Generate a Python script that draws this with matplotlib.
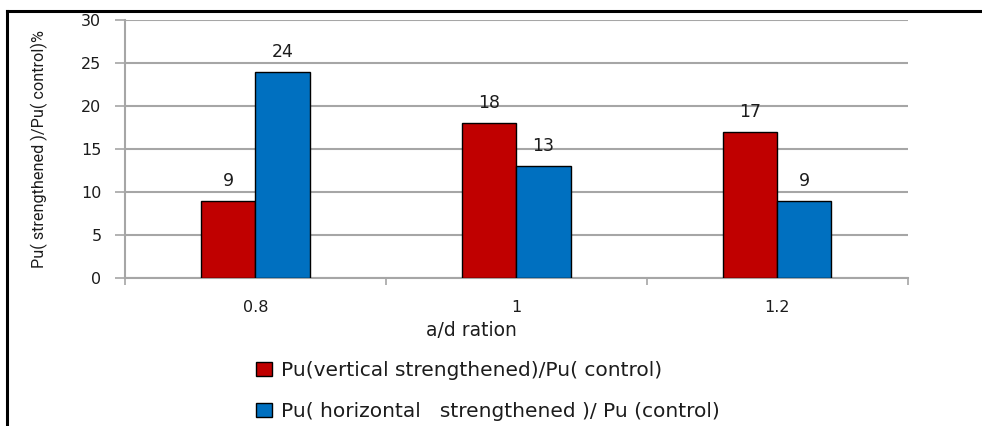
import matplotlib
matplotlib.use("Agg")
import matplotlib.pyplot as plt
from matplotlib.lines import Line2D
import numpy as np

categories = ["0.8", "1", "1.2"]
vertical = [9, 18, 17]
horizontal = [24, 13, 9]
series_labels = ["Pu(vertical strengthened)/Pu( control)",
                 "Pu( horizontal   strengthened )/ Pu (control)"]
yticks = [0, 5, 10, 15, 20, 25, 30]

red = "#C00000"
blue = "#0070C0"
grid_grey = "#A6A6A6"
txt = "#1c1c1c"
sans = ["DejaVu Sans"]

fig = plt.figure(figsize=(9.82, 4.26), dpi=100)
ax = fig.add_axes([0.1273, 0.3474, 0.797, 0.6056])

x = np.arange(len(categories)) + 0.5
w = 0.208
b1 = ax.bar(x - w / 2, vertical, w, color=red, edgecolor="black", linewidth=1.0,
            label=series_labels[0], zorder=3)
b2 = ax.bar(x + w / 2, horizontal, w, color=blue, edgecolor="black", linewidth=1.0,
            label=series_labels[1], zorder=3)

for bars, vals in ((b1, vertical), (b2, horizontal)):
    for rect, v in zip(bars, vals):
        ax.annotate(f"{v}", (rect.get_x() + rect.get_width() / 2, v),
                    xytext=(0, 8), textcoords="offset points",
                    ha="center", va="bottom", fontsize=12.5,
                    family=sans, color=txt)

ax.set_xlim(0, 3)
ax.set_ylim(0, 30)
ax.set_yticks(yticks)
ax.set_xticks(x)
ax.set_xticklabels(categories)
ax.set_xticks([0, 1, 2, 3], minor=True)
ax.tick_params(axis="x", which="major", length=0, pad=16, labelsize=11.5,
               labelcolor=txt)
ax.tick_params(axis="x", which="minor", length=5, width=1.2, color=grid_grey,
               direction="out")
ax.tick_params(axis="y", length=7, width=1.2, color=grid_grey, pad=10,
               labelsize=11.5, labelcolor=txt)
for lab in ax.get_xticklabels() + ax.get_yticklabels():
    lab.set_family(sans)

ax.yaxis.grid(True, color=grid_grey, linewidth=1.5, zorder=0)
ax.set_axisbelow(True)
for side in ("top", "right"):
    ax.spines[side].set_visible(False)
for side in ("left", "bottom"):
    ax.spines[side].set_color(grid_grey)
    ax.spines[side].set_linewidth(1.5)

ax.set_ylabel("Pu( strengthened )/Pu( control)%", fontsize=11.7,
              family=["Roboto", "DejaVu Sans"], color=txt, labelpad=24)

fig.text(471 / 982, 1 - 330 / 426, "a/d ration", ha="center", va="center",
         fontsize=13.5, family=sans, color=txt)

leg = fig.legend(handles=[b1, b2], labels=series_labels,
                 loc="upper left", bbox_to_anchor=(256 / 982, 1 - 361 / 426),
                 frameon=False, handlelength=0.8,
                 handleheight=0.7, handletextpad=0.45, labelspacing=1.1,
                 borderaxespad=0, borderpad=0,
                 prop={"family": sans, "size": 14.5})
for t in leg.get_texts():
    t.set_color(txt)

# frame around the chart (top and left edges)
fig.add_artist(Line2D([7 / 982, 1.0], [1 - 11 / 426, 1 - 11 / 426],
                      transform=fig.transFigure, color="black", linewidth=2.2))
fig.add_artist(Line2D([7 / 982, 7 / 982], [0, 1 - 11 / 426],
                      transform=fig.transFigure, color="black", linewidth=2.2))

fig.savefig("out.png", dpi=100)
